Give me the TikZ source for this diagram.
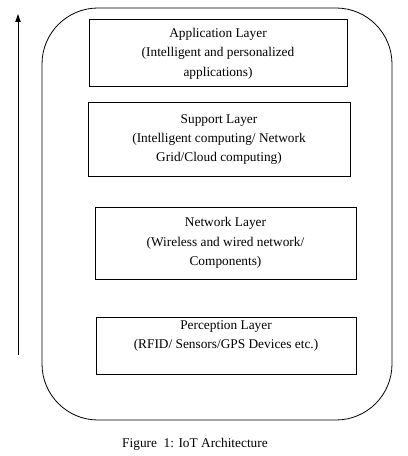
\documentclass[tikz,border=0pt]{standalone}
\usepackage{fontspec}
\setmainfont{Liberation Serif}
\usetikzlibrary{arrows.meta, positioning}

\begin{document}
\begin{tikzpicture}[x=0.75pt, y=-0.75pt,
        >={Triangle[length=6pt, width=4pt]},
        layer/.style={draw, line width=0.75pt, align=center, inner sep=0pt,
            font=\fontsize{10}{14.5}\selectfont},
        arr/.style={->, line width=0.75pt},
    ]
    \useasboundingbox (0,0) rectangle (407,456);
    \node[draw, line width=0.6pt, rounded corners=42pt, minimum width=262.5pt, minimum height=309pt] (frame) at (217,214) {};
    % the four layers, top to bottom
    \node[layer, minimum width=193.5pt, minimum height=50.25pt] (app) at (218,53.5)
        {Application Layer\\(Intelligent and personalized\\applications)};
    \node[layer, minimum width=196.5pt, minimum height=54.75pt] (sup) at (219,139.5)
        {Support Layer\\(Intelligent computing/ Network\\Grid/Cloud computing)};
    \node[layer, minimum width=195.75pt, minimum height=54pt] (net) at (225.5,243)
        {Network Layer\\(Wireless and wired network/\\Components)};
    \node[layer, minimum width=195pt, minimum height=42.75pt] (per) at (226,345.5)
        {Perception Layer\\(RFID/ Sensors/GPS Devices etc.)\\[2pt]};
    % upward arrow
    \coordinate (base) at (18,355);
    \coordinate (tip) at (18,14);
    \draw[arr] (base) -- (tip);
    \node[font=\fontsize{10}{12}\selectfont] (caption) at (195,444) {Figure\ \ 1: IoT Architecture};
\end{tikzpicture}
\end{document}
